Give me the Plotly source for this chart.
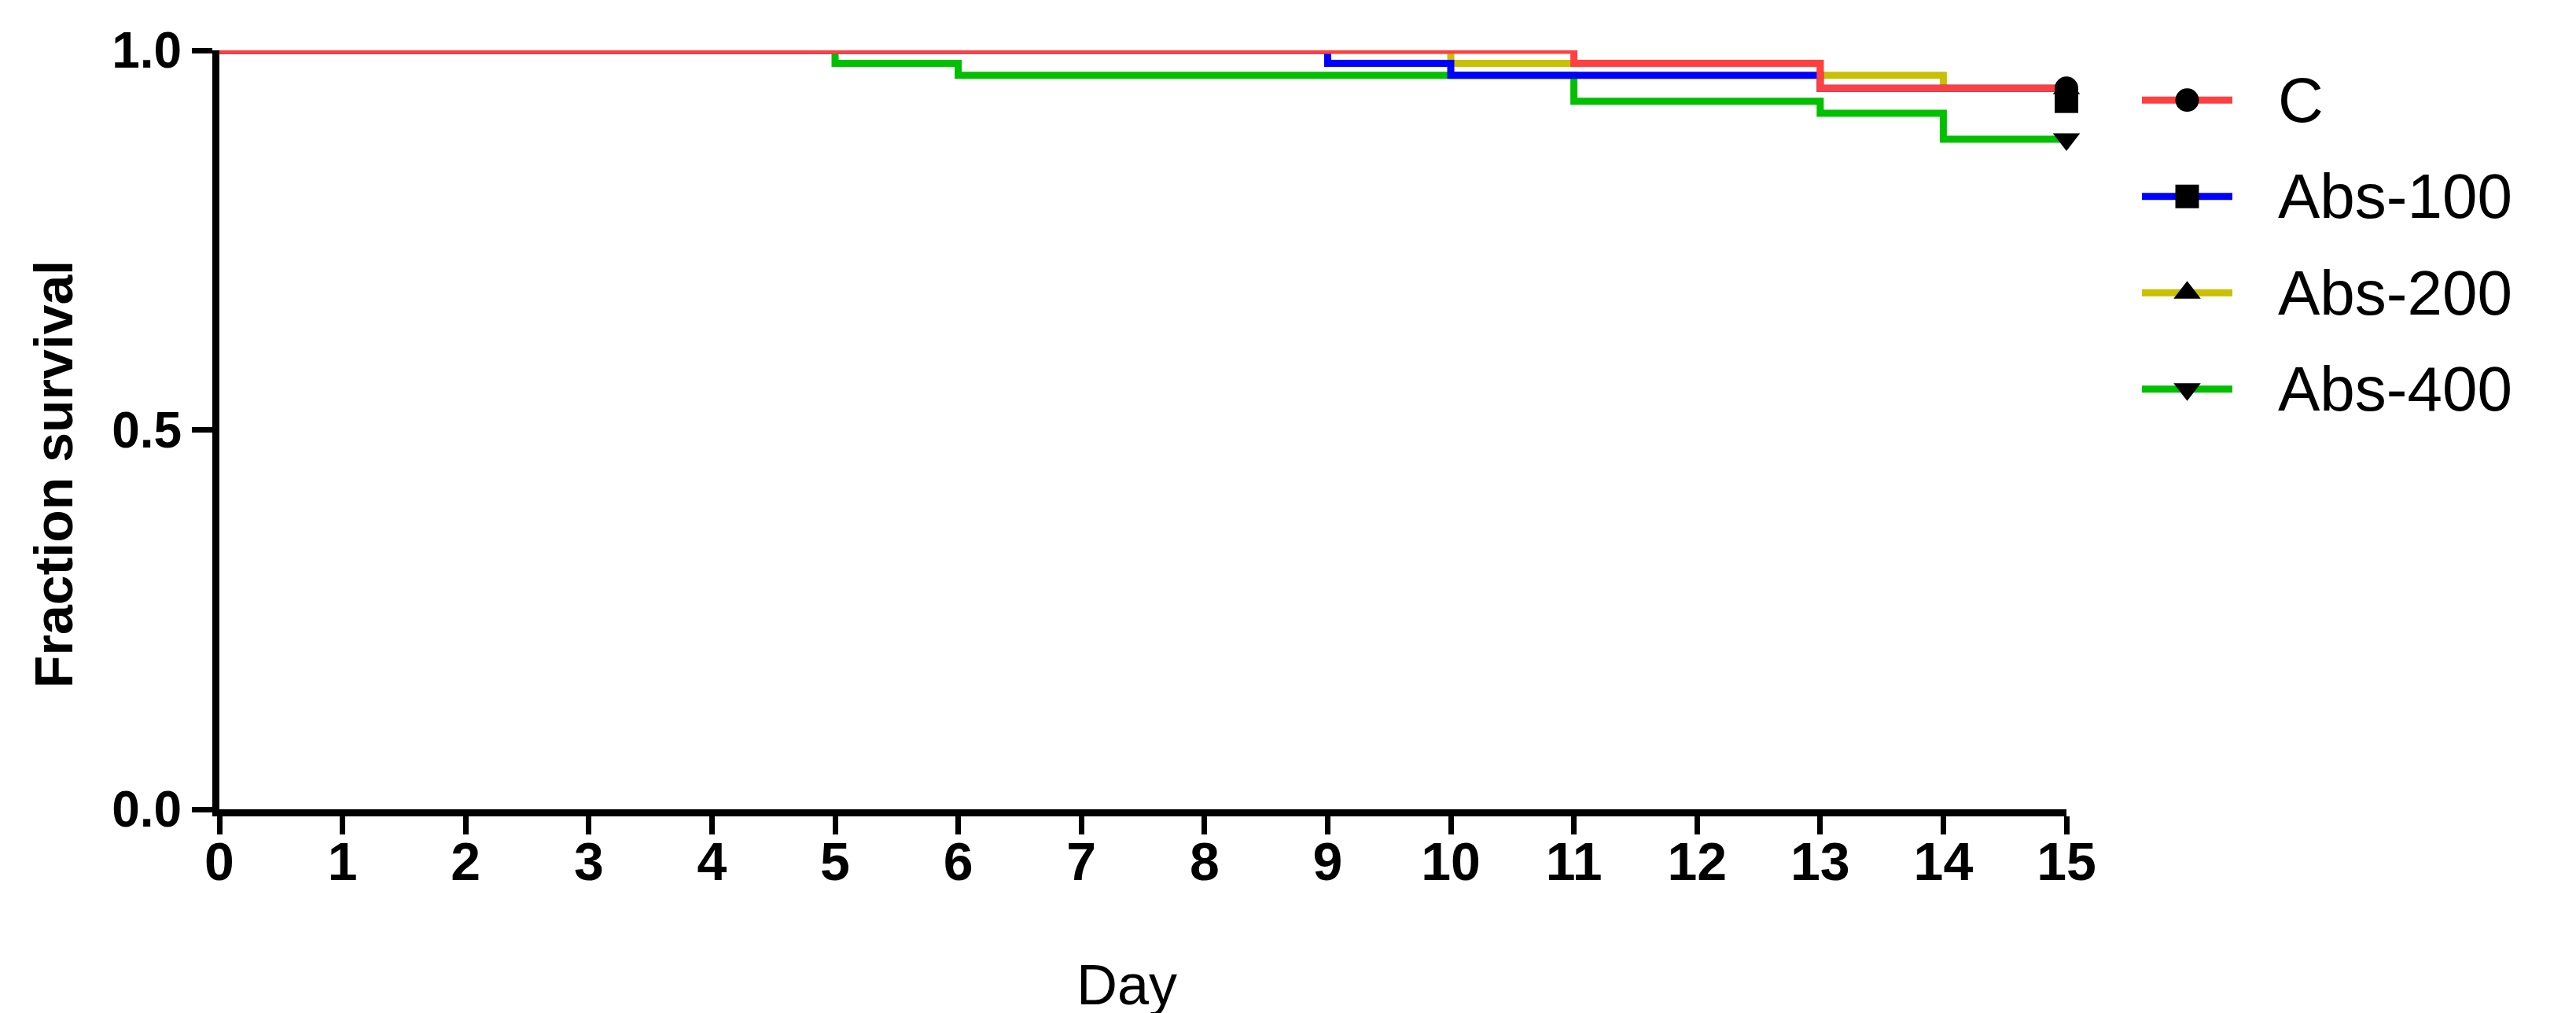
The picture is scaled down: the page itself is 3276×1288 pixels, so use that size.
import plotly.graph_objects as go

# Kaplan-Meier style survival data
groups = ["C", "Abs-100", "Abs-200", "Abs-400"]
days_c = [0, 11, 13, 15]
surv_c = [1.0, 0.983, 0.95, 0.95]
days_100 = [0, 9, 10, 13, 15]
surv_100 = [1.0, 0.983, 0.967, 0.95, 0.933]
days_200 = [0, 10, 13, 14, 15]
surv_200 = [1.0, 0.983, 0.967, 0.95, 0.95]
days_400 = [0, 5, 6, 11, 13, 14, 15]
surv_400 = [1.0, 0.983, 0.967, 0.933, 0.917, 0.883, 0.883]

x_ticks = list(range(0, 16))
y_ticks = [0.0, 0.5, 1.0]
y_ticktext = ["0.0", "0.5", "1.0"]

colors = {"C": "#ff4040", "Abs-100": "#0000ff", "Abs-200": "#c8c000", "Abs-400": "#00c000"}
symbols = {"C": "circle", "Abs-100": "square", "Abs-200": "triangle-up", "Abs-400": "triangle-down"}
series = {
    "C": (days_c, surv_c),
    "Abs-100": (days_100, surv_100),
    "Abs-200": (days_200, surv_200),
    "Abs-400": (days_400, surv_400),
}

W, H = 3276, 1288
# plot area in pixels
px_l, px_r, px_t, px_b = 271, 2620, 56, 1021
FONT = "Liberation Sans, Arial"

fig = go.Figure()

# step lines, red on top
for g in ["Abs-400", "Abs-200", "Abs-100", "C"]:
    xs, ys = series[g]
    fig.add_trace(go.Scatter(x=xs, y=ys, mode="lines", line_shape="hv",
                             line=dict(color=colors[g], width=9),
                             showlegend=False, hoverinfo="skip"))

# censor symbols at the end of follow-up
for g in ["C", "Abs-100", "Abs-200", "Abs-400"]:
    xs, ys = series[g]
    fig.add_trace(go.Scatter(x=[xs[-1]], y=[ys[-1]], mode="markers",
                             marker=dict(symbol=symbols[g], size=30, color="black", line_width=0),
                             cliponaxis=False, showlegend=False))

# hand-built legend on a helper axis
for i, g in enumerate(groups):
    fig.add_trace(go.Scatter(x=[0, 1], y=[i, i], mode="lines", xaxis="x2", yaxis="y2",
                             line=dict(color=colors[g], width=9), showlegend=False))
    fig.add_trace(go.Scatter(x=[0.5], y=[i], mode="markers", xaxis="x2", yaxis="y2",
                             marker=dict(symbol=symbols[g], size=30, color="black", line_width=0),
                             cliponaxis=False, showlegend=False))
    fig.add_annotation(x=1, y=i, xref="x2", yref="y2", text=g, showarrow=False,
                       xanchor="left", yanchor="middle", xshift=56,
                       font=dict(family=FONT, size=80, color="black"))

# axis titles
fig.add_annotation(x=60 / W, y=1 - 595 / H, xref="paper", yref="paper",
                   text="Fraction survival", textangle=-90, showarrow=False,
                   xanchor="center", yanchor="middle",
                   font=dict(family=FONT, size=68, weight="bold", color="black"))
fig.add_annotation(x=1425 / W, y=1 - 1244 / H, xref="paper", yref="paper",
                   text="Day", showarrow=False, xanchor="center", yanchor="middle",
                   font=dict(family=FONT, size=72, color="black"))

fig.update_layout(
    width=W, height=H,
    margin=dict(l=0, r=0, t=0, b=0, autoexpand=False),
    plot_bgcolor="white", paper_bgcolor="white",
    font=dict(family=FONT, color="black"),
    xaxis=dict(
        domain=[px_l / W, px_r / W], range=[0, 15], automargin=False,
        tickvals=x_ticks, ticks="outside", ticklen=23, tickwidth=7, tickcolor="black",
        showline=True, linewidth=9, linecolor="black", showgrid=False, zeroline=False,
        tickfont=dict(family=FONT, size=68, weight="bold"),
        ticklabelstandoff=-24,
    ),
    yaxis=dict(
        domain=[(H - px_b) / H, (H - px_t) / H], range=[0, 1], automargin=False,
        tickvals=y_ticks, ticktext=y_ticktext, ticks="outside", ticklen=26, tickwidth=7,
        tickcolor="black", showline=True, linewidth=9, linecolor="black",
        showgrid=False, zeroline=False,
        tickfont=dict(family=FONT, size=64, weight="bold"),
    ),
    xaxis2=dict(domain=[2716 / W, 2831 / W], range=[0, 1], anchor="y2",
                visible=False, fixedrange=True, automargin=False),
    yaxis2=dict(domain=[(H - 548) / H, (H - 58) / H], range=[3.5, -0.5], anchor="x2",
                visible=False, fixedrange=True, automargin=False),
)

fig.write_html("out.html")
